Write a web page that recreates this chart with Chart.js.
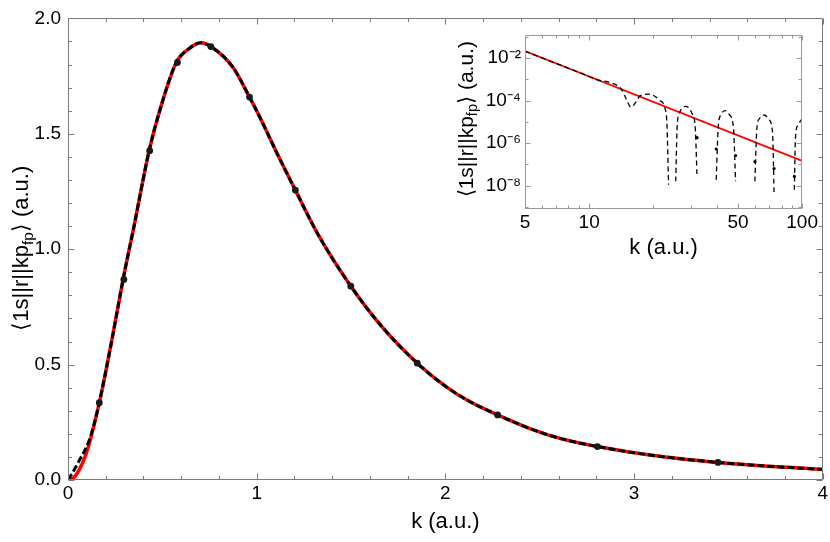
<!DOCTYPE html>
<html>
<head>
<meta charset="utf-8">
<script src="https://cdn.jsdelivr.net/npm/chart.js@4.4.1/dist/chart.umd.min.js"></script>
<style>
  html, body { margin: 0; padding: 0; background: #fff; }
  #wrap { position: relative; width: 830px; height: 542px; }
  #mainChart { position: absolute; left: 0; top: 0; }
  #insetChart { position: absolute; left: 440px; top: 20px; }
</style>
</head>
<body>
<div id="wrap">
  <canvas id="mainChart" width="830" height="542"></canvas>
  <canvas id="insetChart" width="380" height="250"></canvas>
</div>
<script>
// main panel: k grid, exact (red) and numerical (black dashed) matrix elements
const kGrid = [0, 0.03, 0.06, 0.09, 0.12, 0.166, 0.231, 0.292, 0.35, 0.43, 0.486, 0.574, 0.64, 0.706, 0.759, 0.874, 0.962, 1.015, 1.111, 1.205, 1.332, 1.499, 1.666, 1.851, 2.001, 2.124, 2.277, 2.441, 2.617, 2.806, 3.093, 3.445, 3.709, 4.0];
const mExact = [0, 0.01, 0.045, 0.1, 0.18, 0.335, 0.6, 0.869, 1.1, 1.427, 1.6, 1.809, 1.868, 1.894, 1.877, 1.788, 1.659, 1.575, 1.41, 1.256, 1.054, 0.84, 0.662, 0.506, 0.406, 0.342, 0.282, 0.225, 0.178, 0.145, 0.107, 0.076, 0.06, 0.046];
const mNum = [0, 0.04, 0.085, 0.13, 0.19, 0.335, 0.6, 0.869, 1.1, 1.427, 1.6, 1.809, 1.868, 1.894, 1.877, 1.788, 1.659, 1.575, 1.41, 1.256, 1.054, 0.84, 0.662, 0.506, 0.406, 0.342, 0.282, 0.225, 0.178, 0.145, 0.107, 0.076, 0.06, 0.046];

// discrete points (black dots)
const kDots = [0.166, 0.296, 0.433, 0.58, 0.757, 0.962, 1.205, 1.499, 1.851, 2.277, 2.806, 3.445];
const mDots = [0.335, 0.869, 1.427, 1.809, 1.878, 1.659, 1.256, 0.84, 0.506, 0.282, 0.145, 0.076];

// inset (log-log): exact power law and numerical result (null = zero crossing, off the log axis)
const kInsetExact = [5, 100];
const insetExact = [2.14e-2, 1.45e-7];
const kInset = [5, 7, 9, 11, 12.5, 14.1, 15, 15.7, 16.5, 17.4, 19.2, 21.5, 22.7, 23.2, 23.6, 24.5, 25.5, 25.9, 26.6, 28.5, 30.4, 31.5, 32.1, 35, 39.5, 40.4, 41.6, 43.5, 45.5, 47.6, 48.7, 54, 60.0, 61.3, 63.0, 66.4, 69.8, 72.6, 73.8, 82, 91.9, 93.0, 95.5, 100];
const insetNum = [2.1e-2, 5.6e-3, 2.1e-3, 9.3e-4, 7.1e-4, 3.6e-4, 1.1e-4, 4.9e-5, 7.9e-5, 1.7e-4, 2.0e-4, 1.0e-4, 4.3e-5, 6.9e-6, 1.1e-8, null, 1.6e-8, 6.3e-6, 2.8e-5, 5.4e-5, 2.5e-5, 5.0e-6, 2.7e-8, null, 1.9e-8, 6.3e-6, 2.2e-5, 3.4e-5, 2.2e-5, 5.0e-6, 1.6e-8, null, 1.6e-8, 5.0e-6, 1.4e-5, 2.1e-5, 1.3e-5, 3.2e-6, 5.0e-9, null, 6.3e-9, 1.6e-6, 7.1e-6, 1.4e-5];
const kInsetDots = [32.1, 39.5, 48.7, 60.0, 73.8, 91.9];
const insetDots = [1.8e-6, 5.2e-7, 2.6e-7, 1.35e-7, 6.3e-8, 2.7e-8];

// ticks
const mainXMajor = [0, 1, 2, 3, 4];
const mainXMinor = [0.2, 0.4, 0.6, 0.8, 1.2, 1.4, 1.6, 1.8, 2.2, 2.4, 2.6, 2.8, 3.2, 3.4, 3.6, 3.8];
const mainYMajor = [0, 0.5, 1, 1.5, 2];
const mainYMinor = [0.1, 0.2, 0.3, 0.4, 0.6, 0.7, 0.8, 0.9, 1.1, 1.2, 1.3, 1.4, 1.6, 1.7, 1.8, 1.9];
const insetXMajor = [5, 10, 50, 100];
const insetXMinor = [6, 7, 8, 9, 20, 30, 40, 60, 70, 80, 90];
const insetYMajor = [1e-2, 1e-4, 1e-6, 1e-8];
const insetYMinor = [1e-1, 1e-3, 1e-5, 1e-7, 1e-9];
const insetYLabels = ['10⁻²', '10⁻⁴', '10⁻⁶', '10⁻⁸'];

const FONT = "'Liberation Sans', Arial, Helvetica, sans-serif";
const yTitleParts = [{ text: '⟨1s||r||kp' }, { text: 'fp', sub: true }, { text: '⟩ (a.u.)' }];

function pts(xs, ys) {
  return xs.map((x, i) => ({ x: x, y: ys[i] }));
}

function drawRotatedTitle(ctx, cx, cy, size, parts) {
  ctx.save();
  ctx.translate(cx, cy);
  ctx.rotate(-Math.PI / 2);
  ctx.fillStyle = '#000';
  ctx.textBaseline = 'middle';
  ctx.textAlign = 'left';
  let total = 0;
  const widths = parts.map(p => {
    ctx.font = (p.sub ? size * 0.7 : size) + 'px ' + FONT;
    const w = ctx.measureText(p.text).width;
    total += w;
    return w;
  });
  let xx = -total / 2;
  parts.forEach((p, i) => {
    ctx.font = (p.sub ? size * 0.7 : size) + 'px ' + FONT;
    ctx.fillText(p.text, xx, p.sub ? size * 0.3 : 0);
    xx += widths[i];
  });
  ctx.restore();
}

// frame with inward ticks on all four sides + y title with subscript
const frameTicks = {
  id: 'frameTicks',
  afterDraw(chart, args, o) {
    const { ctx, chartArea: a, scales: { x, y } } = chart;
    const L = Math.round(a.left) + 0.5, R = Math.round(a.right) - 0.5;
    const T = Math.round(a.top) + 0.5, B = Math.round(a.bottom) - 0.5;
    ctx.save();
    ctx.strokeStyle = o.color;
    ctx.lineWidth = 1;
    ctx.beginPath();
    ctx.rect(L, T, R - L, B - T);
    const xt = (vals, len) => vals.forEach(v => {
      const p = Math.round(x.getPixelForValue(v)) + 0.5;
      ctx.moveTo(p, B); ctx.lineTo(p, B - len);
      ctx.moveTo(p, T); ctx.lineTo(p, T + len);
    });
    const yt = (vals, len) => vals.forEach(v => {
      const p = Math.round(y.getPixelForValue(v)) + 0.5;
      ctx.moveTo(L, p); ctx.lineTo(L + len, p);
      ctx.moveTo(R, p); ctx.lineTo(R - len, p);
    });
    xt(o.xMajor, o.major); xt(o.xMinor, o.minor);
    yt(o.yMajor, o.major); yt(o.yMinor, o.minor);
    ctx.stroke();
    ctx.restore();
    drawRotatedTitle(ctx, o.titleX, (a.top + a.bottom) / 2 + o.titleDY, o.titleSize, yTitleParts);
  }
};

new Chart(document.getElementById('mainChart'), {
  type: 'line',
  data: {
    datasets: [
      { data: pts(kDots, mDots), showLine: false, pointRadius: 3.4, pointBackgroundColor: '#1a1a1a', pointBorderWidth: 0, order: 1 },
      { data: pts(kGrid, mNum), borderColor: '#000', borderWidth: 3, borderDash: [7, 3], pointRadius: 0, cubicInterpolationMode: 'monotone', order: 2 },
      { data: pts(kGrid, mExact), borderColor: '#ff0000', borderWidth: 3.5, pointRadius: 0, cubicInterpolationMode: 'monotone', order: 3 }
    ]
  },
  options: {
    responsive: false,
    animation: false,
    events: [],
    layout: { padding: { top: 12, right: 5, left: 0, bottom: 0 } },
    plugins: {
      legend: { display: false },
      tooltip: { enabled: false },
      frameTicks: {
        color: '#7a7a7a', major: 6, minor: 3.5,
        xMajor: mainXMajor, xMinor: mainXMinor, yMajor: mainYMajor, yMinor: mainYMinor,
        titleX: 22, titleDY: -1, titleSize: 22
      }
    },
    scales: {
      x: {
        type: 'linear', min: 0, max: 4,
        grid: { display: false, drawTicks: false }, border: { display: false },
        afterBuildTicks(s) { s.ticks = mainXMajor.map(v => ({ value: v })); },
        ticks: { padding: 2, color: '#000', font: { family: FONT, size: 19 }, maxRotation: 0, autoSkip: false },
        title: { display: true, text: 'k (a.u.)', color: '#000', font: { family: FONT, size: 22 }, padding: { top: 0, bottom: 7 } },
        afterFit(s) { s.height = 62; }
      },
      y: {
        type: 'linear', min: 0, max: 2,
        grid: { display: false, drawTicks: false }, border: { display: false },
        afterBuildTicks(s) { s.ticks = mainYMajor.map(v => ({ value: v })); },
        ticks: { padding: 7, color: '#000', font: { family: FONT, size: 19 }, callback: v => v.toFixed(1) },
        afterFit(s) { s.width = 68; }
      }
    }
  },
  plugins: [frameTicks]
});

new Chart(document.getElementById('insetChart'), {
  type: 'line',
  data: {
    datasets: [
      { data: pts(kInsetDots, insetDots), showLine: false, pointRadius: 1.6, pointBackgroundColor: '#000', pointBorderWidth: 0, order: 1 },
      { data: pts(kInset, insetNum), borderColor: '#000', borderWidth: 1.3, borderDash: [5, 3.5], pointRadius: 0, spanGaps: false, cubicInterpolationMode: 'monotone', order: 2 },
      { data: pts(kInsetExact, insetExact), borderColor: '#ff0000', borderWidth: 1.7, pointRadius: 0, order: 3 }
    ]
  },
  options: {
    responsive: false,
    animation: false,
    events: [],
    layout: { padding: { top: 14, right: 12, left: 0, bottom: 0 } },
    plugins: {
      legend: { display: false },
      tooltip: { enabled: false },
      frameTicks: {
        color: '#9a9a9a', major: 5, minor: 3,
        xMajor: insetXMajor, xMinor: insetXMinor, yMajor: insetYMajor, yMinor: insetYMinor,
        titleX: 27, titleDY: -3, titleSize: 21
      }
    },
    scales: {
      x: {
        type: 'logarithmic', min: 5, max: 100,
        grid: { display: false, drawTicks: false }, border: { display: false },
        afterBuildTicks(s) { s.ticks = insetXMajor.map(v => ({ value: v })); },
        ticks: { padding: 2, color: '#000', font: { family: FONT, size: 19 }, maxRotation: 0, autoSkip: false, callback: v => String(v) },
        title: { display: true, text: 'k (a.u.)', color: '#000', font: { family: FONT, size: 22 }, padding: { top: 0, bottom: 9 } },
        afterFit(s) { s.height = 61; }
      },
      y: {
        type: 'logarithmic', min: 7.9e-10, max: 0.117,
        grid: { display: false, drawTicks: false }, border: { display: false },
        afterBuildTicks(s) { s.ticks = insetYMajor.map(v => ({ value: v })); },
        ticks: { padding: 4, color: '#000', font: { family: FONT, size: 19 }, autoSkip: false,
                 callback: v => insetYLabels[insetYMajor.findIndex(t => Math.abs(Math.log10(t) - Math.log10(v)) < 0.01)] },
        afterFit(s) { s.width = 85; }
      }
    }
  },
  plugins: [frameTicks]
});
</script>
</body>
</html>
